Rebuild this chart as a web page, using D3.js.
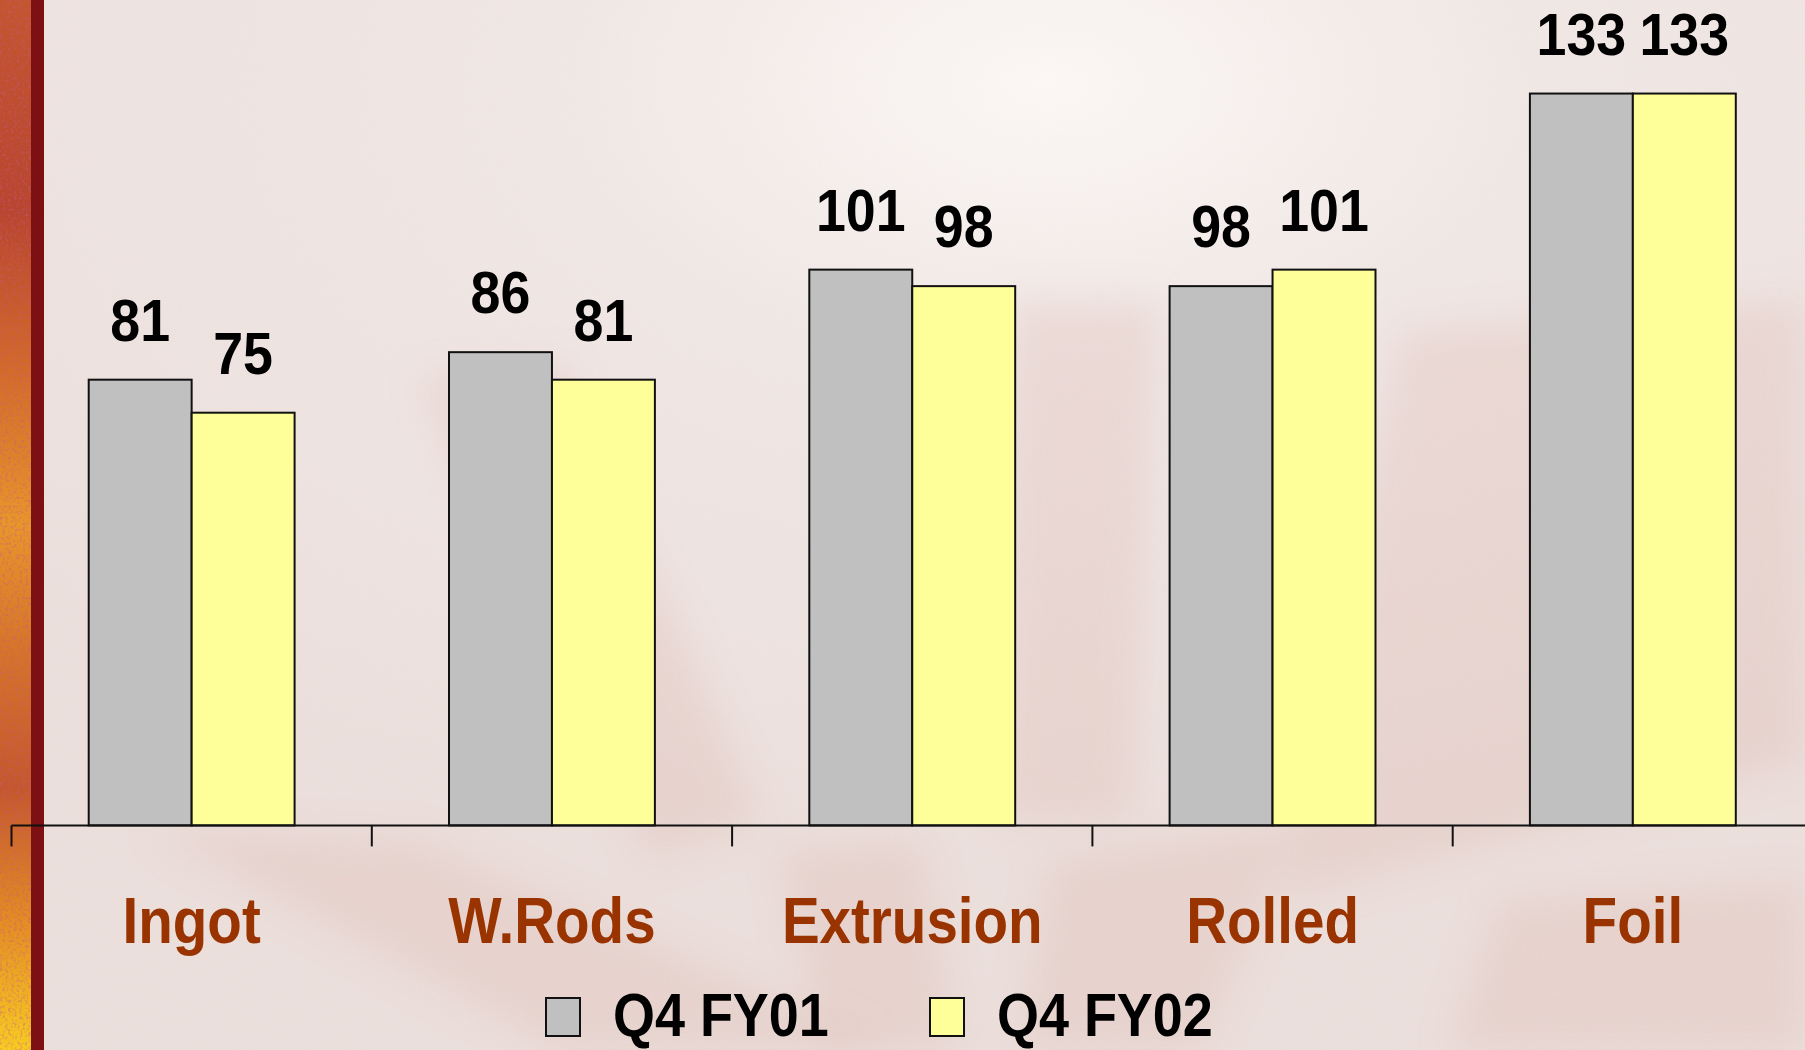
<!DOCTYPE html>
<html>
<head>
<meta charset="utf-8">
<script src="https://cdn.jsdelivr.net/npm/d3@7"></script>
<style>
  html, body { margin: 0; padding: 0; background: #eee5e2; overflow: hidden; }
  svg { display: block; }
  text { font-family: "Liberation Sans", Arial, "DejaVu Sans", sans-serif; font-weight: bold; }
</style>
</head>
<body>
<svg id="chart" width="1805" height="1050"></svg>
<script>
// Shipment index by product line, Q4 FY01 vs Q4 FY02
const categories = ["Ingot", "W.Rods", "Extrusion", "Rolled", "Foil"];
const seriesNames = ["Q4 FY01", "Q4 FY02"];
const fy01Values = [81, 86, 101, 98, 133];
const fy02Values = [75, 81, 98, 101, 133];
const seriesColors = ["#c0c0c0", "#ffff99"];

const W = 1805, H = 1050;
const baseY = 825.4;
const svg = d3.select("#chart");
const defs = svg.append("defs");

// --- backdrop -------------------------------------------------------------
const glow = defs.append("radialGradient").attr("id", "glow")
  .attr("cx", 0.58).attr("cy", 0.08).attr("r", 0.75);
glow.append("stop").attr("offset", 0).attr("stop-color", "#fbf8f6");
glow.append("stop").attr("offset", 0.35).attr("stop-color", "#f0e8e5");
glow.append("stop").attr("offset", 1).attr("stop-color", "#ebdfdb");

const soft = defs.append("filter").attr("id", "soft")
  .attr("x", "-20%").attr("y", "-20%").attr("width", "140%").attr("height", "140%");
soft.append("feGaussianBlur").attr("stdDeviation", 18);

const grain = defs.append("filter").attr("id", "grain");
grain.append("feTurbulence").attr("type", "fractalNoise")
  .attr("baseFrequency", 0.9).attr("numOctaves", 1).attr("seed", 4);
grain.append("feColorMatrix").attr("type", "matrix")
  .attr("values", "0 0 0 0 0.95  0 0 0 0 0.75  0 0 0 0 0.8  0 0 0 0.9 -0.35");

svg.append("rect").attr("width", W).attr("height", H).attr("fill", "url(#glow)");

// faint pinwheel blades behind the plot
const blades = [
  [[420, 380], [560, 360], [760, 820], [650, 860]],
  [[1010, 300], [1160, 300], [1130, 820], [1000, 820]],
  [[1400, 330], [1805, 300], [1805, 760], [1280, 900]],
  [[150, 830], [420, 840], [900, 1050], [560, 1050]],
  [[780, 850], [920, 840], [960, 1050], [820, 1050]],
  [[1050, 860], [1300, 820], [1200, 1050], [1020, 1050]],
  [[1500, 900], [1805, 880], [1805, 1050], [1450, 1050]]
];
svg.append("g").attr("filter", "url(#soft)")
  .selectAll("path").data(blades).join("path")
  .attr("d", d => d3.line()(d) + "Z")
  .attr("fill", "#d9aaa3").attr("opacity", 0.24);

svg.append("rect").attr("width", W).attr("height", H)
  .attr("filter", "url(#grain)").attr("opacity", 0.35);

// left decorative strip
const strip = defs.append("linearGradient").attr("id", "strip")
  .attr("x1", 0).attr("y1", 0).attr("x2", 0).attr("y2", 1);
[[0, "#c4562e"], [0.2, "#b8452e"], [0.35, "#d36a28"], [0.5, "#e8962a"],
 [0.62, "#d77428"], [0.75, "#c4572c"], [0.88, "#e58e22"], [1, "#f8cc22"]]
  .forEach(([o, c]) => strip.append("stop").attr("offset", o).attr("stop-color", c));
svg.append("rect").attr("x", 0).attr("y", 0).attr("width", 31).attr("height", H)
  .attr("fill", "url(#strip)");
const stripGrain = defs.append("filter").attr("id", "stripGrain");
stripGrain.append("feTurbulence").attr("type", "fractalNoise")
  .attr("baseFrequency", 0.35).attr("numOctaves", 2).attr("seed", 9);
stripGrain.append("feColorMatrix").attr("type", "matrix")
  .attr("values", "0 0 0 0 0.55  0 0 0 0 0.1  0 0 0 0 0.25  0 0 0 1.6 -0.75");
svg.append("rect").attr("x", 0).attr("y", 0).attr("width", 31).attr("height", H)
  .attr("filter", "url(#stripGrain)").attr("opacity", 0.8);
svg.append("rect").attr("x", 31).attr("y", 0).attr("width", 13).attr("height", H)
  .attr("fill", "#7c1012");

// --- scales ---------------------------------------------------------------
const x = d3.scaleBand().domain(categories).range([11.5, 1813]).padding(0);
const xs = d3.scaleBand().domain(seriesNames).range([0, x.bandwidth()])
  .paddingInner(0).paddingOuter(0.75);
const y = d3.scaleLinear().domain([0, 150]).range([baseY, 0]);

const rows = categories.map((c, i) => ({
  cat: c,
  vals: [
    { s: seriesNames[0], v: fy01Values[i], color: seriesColors[0] },
    { s: seriesNames[1], v: fy02Values[i], color: seriesColors[1] }
  ]
}));

const SX = 0.87; // horizontal squeeze of the lettering

// --- bars -----------------------------------------------------------------
const groups = svg.append("g").selectAll("g").data(rows).join("g")
  .attr("transform", d => `translate(${x(d.cat)},0)`);

groups.selectAll("rect").data(d => d.vals).join("rect")
  .attr("x", d => xs(d.s))
  .attr("y", d => y(d.v))
  .attr("width", xs.bandwidth())
  .attr("height", d => baseY - y(d.v))
  .attr("fill", d => d.color)
  .attr("stroke", "#111")
  .attr("stroke-width", 2);

groups.selectAll("text").data(d => d.vals).join("text")
  .attr("transform", d => `translate(${xs(d.s) + xs.bandwidth() / 2},${y(d.v) - 39}) scale(${SX * 1.03},1)`)
  .attr("text-anchor", "middle")
  .attr("font-size", 60)
  .attr("fill", "#000")
  .text(d => d.v);

// --- category axis --------------------------------------------------------
const axis = svg.append("g");
axis.append("line")
  .attr("x1", x.range()[0]).attr("x2", W)
  .attr("y1", baseY).attr("y2", baseY)
  .attr("stroke", "#111").attr("stroke-width", 2);
axis.selectAll("line.tick").data(categories).join("line")
  .attr("class", "tick")
  .attr("x1", d => x(d)).attr("x2", d => x(d))
  .attr("y1", baseY).attr("y2", baseY + 21)
  .attr("stroke", "#111").attr("stroke-width", 2);
axis.selectAll("text").data(categories).join("text")
  .attr("transform", d => `translate(${x(d) + x.bandwidth() / 2},943) scale(${SX},1)`)
  .attr("text-anchor", "middle")
  .attr("font-size", 65)
  .attr("fill", "#993300")
  .text(d => d);

// --- legend ---------------------------------------------------------------
const legendX = [546, 930];
const legend = svg.append("g").selectAll("g").data(seriesNames).join("g")
  .attr("transform", (d, i) => `translate(${legendX[i]},0)`);
legend.append("rect")
  .attr("x", 0).attr("y", 998).attr("width", 34).attr("height", 38)
  .attr("fill", (d, i) => seriesColors[i])
  .attr("stroke", "#111").attr("stroke-width", 2);
legend.append("text")
  .attr("transform", `translate(67,1036) scale(${SX},1)`)
  .attr("font-size", 62)
  .attr("fill", "#000")
  .text(d => d);
</script>
</body>
</html>
